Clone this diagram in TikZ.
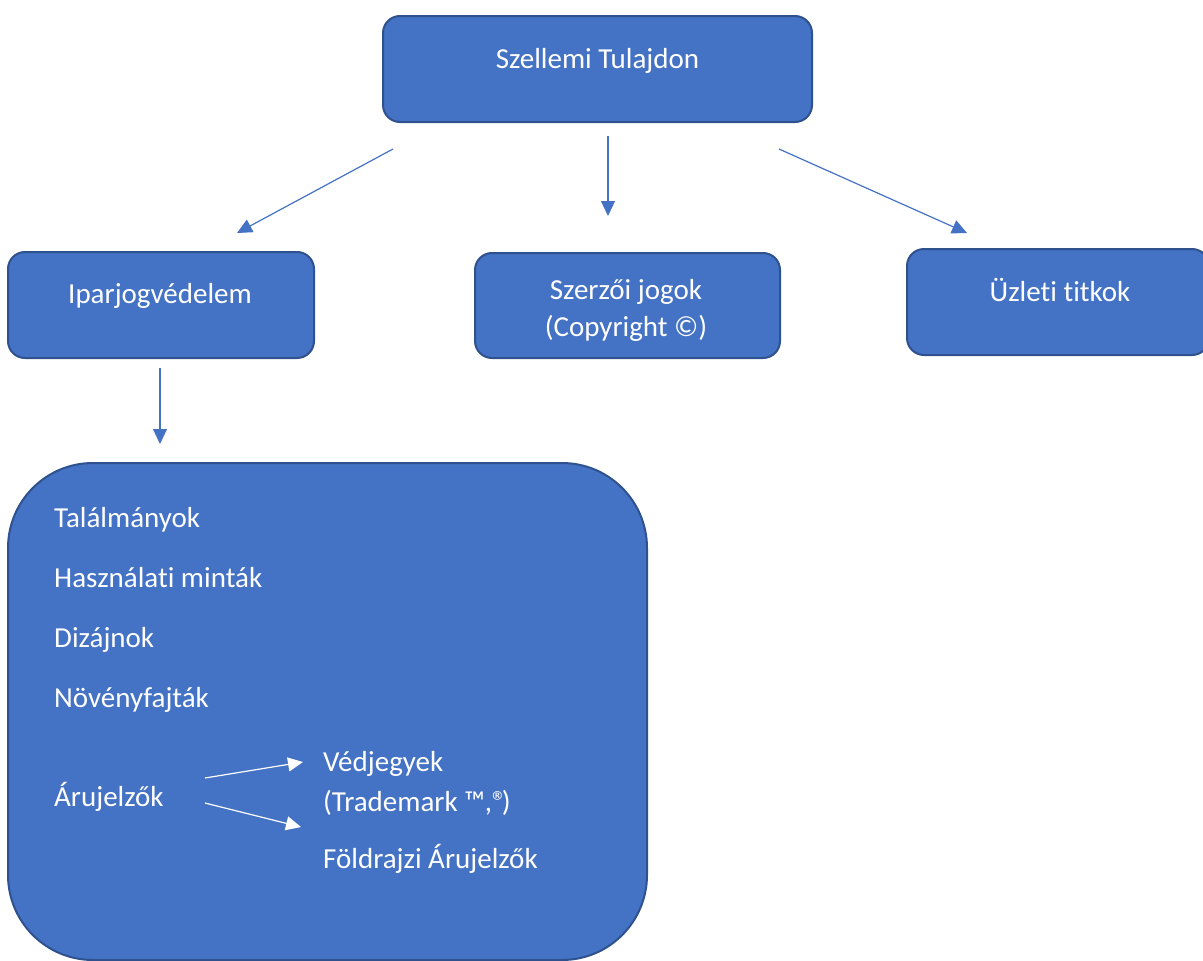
\documentclass[tikz,border=0pt]{standalone}
\usepackage{fontspec}
\setmainfont{Carlito}[Ligatures={NoCommon}]
\usetikzlibrary{arrows.meta}
\definecolor{boxfill}{HTML}{4472C4}
\definecolor{boxline}{HTML}{2F528F}
\definecolor{arrowblue}{HTML}{4472C4}
\tikzset{
  box/.style={draw=boxline, fill=boxfill, line width=2pt, rounded corners=17pt, inner sep=0pt},
  txt/.style={text=white, inner sep=0pt, font=\fontsize{29}{39}\selectfont},
  conn/.style={draw=arrowblue, line width=1.2pt, -{Triangle[length=15pt,width=14pt]}},
  wconn/.style={draw=white, line width=1.2pt, -{Triangle[length=15pt,width=14pt]}}
}
\begin{document}
\begin{tikzpicture}[x=1pt,y=-1pt]
\useasboundingbox (0,0) rectangle (1203,961);
\fill[white] (0,0) rectangle (1203,961);

% boxes
\node[box, minimum width=429pt, minimum height=106pt] (top) at (597.5,69) {};
\node[box, minimum width=306pt, minimum height=106pt] (ipar) at (161,305) {};
\node[box, minimum width=305pt, minimum height=105pt] (szerzo) at (627.5,305.5) {};
\node[box, minimum width=302pt, minimum height=106pt] (uzleti) at (1058,302) {};
\node[box, minimum width=639pt, minimum height=497pt, rounded corners=85pt] (big) at (327.5,711.5) {};

% box texts
\node[txt, anchor=base] (topt) at (597.5,68) {Szellemi Tulajdon};
\node[txt, anchor=base] (ipart) at (160,303) {Iparjogvédelem};
\node[txt, anchor=base] (szerzot1) at (626,299) {Szerzői jogok};
\node[txt, anchor=base] (szerzot2) at (626,336) {(Copyright ©)};
\node[txt, anchor=base] (uzletit) at (1060,301) {Üzleti titkok};

% big box texts
\node[txt, anchor=base west] (t1) at (54,527) {Találmányok};
\node[txt, anchor=base west] (t2) at (54,587) {Használati minták};
\node[txt, anchor=base west] (t3) at (54,647) {Dizájnok};
\node[txt, anchor=base west] (t4) at (54,707) {Növényfajták};
\node[txt, anchor=base west] (t5) at (54,806) {Árujelzők};
\node[txt, anchor=base west] (t6) at (323,771) {Védjegyek};
\node[txt, anchor=base west] (t7) at (323,811) {(Trademark ™,®\kern-5pt)};
\node[txt, anchor=base west] (t8) at (323,868) {Földrajzi Árujelzők};

% connector end points
\coordinate (a1s) at (393,149);
\coordinate (a1e) at (237,233);
\coordinate (a2s) at (608,136);
\coordinate (a2e) at (608,216);
\coordinate (a3s) at (779,149);
\coordinate (a3e) at (967,233);
\coordinate (a4s) at (160,368);
\coordinate (a4e) at (160,444);
\coordinate (w1s) at (205,778);
\coordinate (w1e) at (303,762);
\coordinate (w2s) at (205,803);
\coordinate (w2e) at (301,827);

\draw[conn] (a1s) -- (a1e);
\draw[conn] (a2s) -- (a2e);
\draw[conn] (a3s) -- (a3e);
\draw[conn] (a4s) -- (a4e);
\draw[wconn] (w1s) -- (w1e);
\draw[wconn] (w2s) -- (w2e);
\end{tikzpicture}
\end{document}
